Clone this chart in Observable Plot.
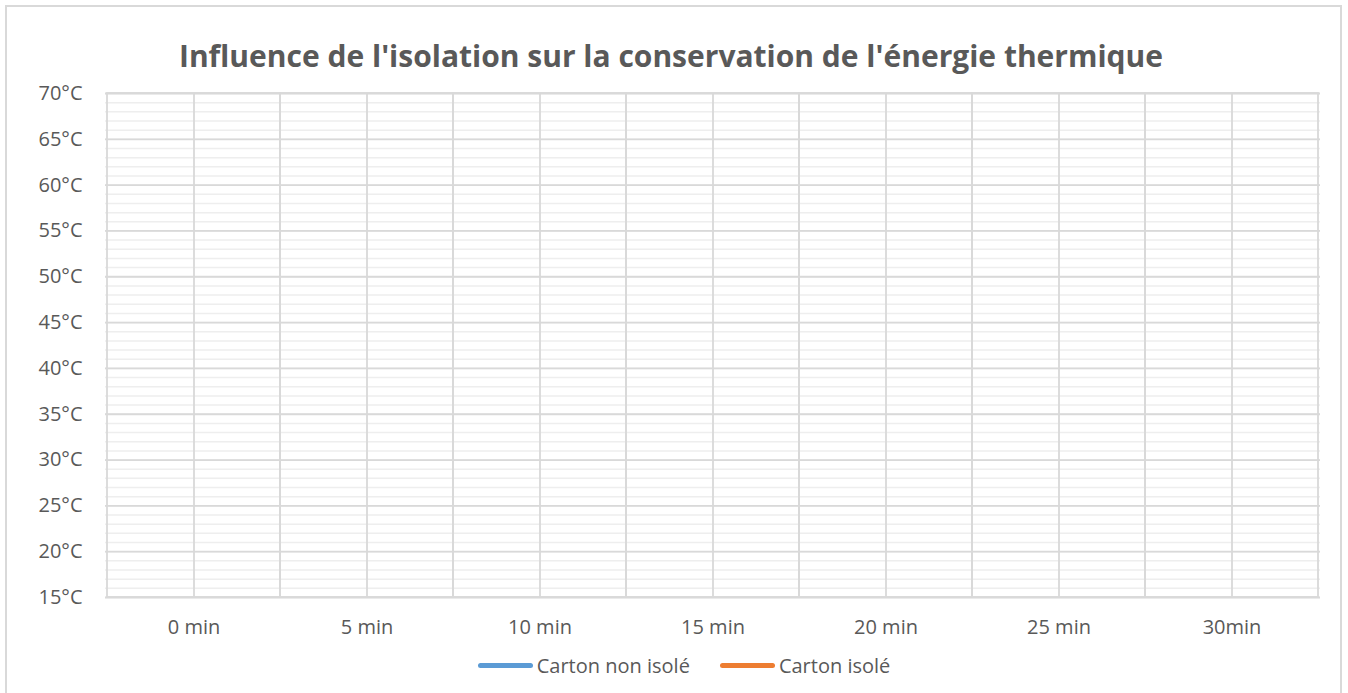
<!DOCTYPE html>
<html><head><meta charset="utf-8">
<script src="https://cdn.jsdelivr.net/npm/d3@7"></script>
<script src="https://cdn.jsdelivr.net/npm/@observablehq/plot@0.6"></script>
<style>
html,body{margin:0;padding:0;background:#fff;}
#wrap{position:relative;width:1348px;height:693px;overflow:hidden;font-family:"Open Sans",sans-serif;}
#border{position:absolute;left:5px;top:5px;width:1337px;height:720px;border:2px solid #d9d9d9;box-sizing:border-box;}
#title{position:absolute;left:0;top:35px;width:1342px;text-align:center;font-size:30px;font-weight:700;color:#595959;white-space:nowrap;}
#chart{position:absolute;left:0;top:0;}
#legend{position:absolute;left:0;top:652px;width:1348px;padding-left:20px;box-sizing:border-box;display:flex;justify-content:center;gap:30px;font-size:20px;color:#595959;}
.item{display:flex;align-items:center;}
.sw{width:55px;height:5px;border-radius:3px;margin-right:4px;}
</style></head>
<body><div id="wrap"><div id="border"></div><div id="title">Influence de l'isolation sur la conservation de l'énergie thermique</div><div id="chart"></div><div id="legend"></div></div>
<script>
const times = ["0 min","5 min","10 min","15 min","20 min","25 min","30min"];
const nonIsole = [null,null,null,null,null,null,null];
const isole = [null,null,null,null,null,null,null];
const seriesNames = ["Carton non isolé","Carton isolé"];
const seriesColors = ["#5B9BD5","#ED7D31"];
const yMajor = [15,20,25,30,35,40,45,50,55,60,65,70];
const yMinor = d3.range(15,71,1);

const rows = [];
times.forEach((t,i)=>{
  rows.push({t, v: nonIsole[i], s: seriesNames[0]});
  rows.push({t, v: isole[i], s: seriesNames[1]});
});

const plot = Plot.plot({
  width:1348, height:693,
  marginLeft:105, marginRight:28, marginTop:93, marginBottom:96,
  style:{fontFamily:"Open Sans, sans-serif", fontSize:"20px", color:"#595959", background:"transparent"},
  x:{type:"band", domain:times, padding:0, label:null},
  y:{domain:[15,70], label:null},
  color:{domain:seriesNames, range:seriesColors},
  marks:[
    Plot.ruleY(yMinor, {y:d=>d, stroke:"#eeeeee", strokeWidth:1.5}),
    Plot.ruleY(yMajor, {y:d=>d, stroke:"#d9d9d9", strokeWidth:1.8}),
    Plot.gridX(times, {stroke:"#d9d9d9", strokeOpacity:1, strokeWidth:1.8}),
    Plot.cell(times, {x:d=>d, fill:"none", stroke:"#d9d9d9", strokeWidth:1.8, inset:0}),
    Plot.axisY(yMajor, {tickSize:0, tickPadding:23, tickFormat:d=>d+"°C", fill:"#595959", fontSize:20, label:null}),
    Plot.axisX(times, {tickSize:0, tickPadding:22, fill:"#595959", fontSize:20, label:null}),
    Plot.line(rows.filter(r=>r.s===seriesNames[0]), {x:"t", y:"v", stroke:seriesColors[0], strokeWidth:3}),
    Plot.line(rows.filter(r=>r.s===seriesNames[1]), {x:"t", y:"v", stroke:seriesColors[1], strokeWidth:3})
  ]
});
document.getElementById("chart").appendChild(plot);

const leg = document.getElementById("legend");
seriesNames.forEach((n,i)=>{
  const it=document.createElement("div"); it.className="item";
  const sw=document.createElement("div"); sw.className="sw"; sw.style.background=seriesColors[i];
  const tx=document.createElement("span"); tx.textContent=n;
  it.appendChild(sw); it.appendChild(tx); leg.appendChild(it);
});
</script></body></html>
